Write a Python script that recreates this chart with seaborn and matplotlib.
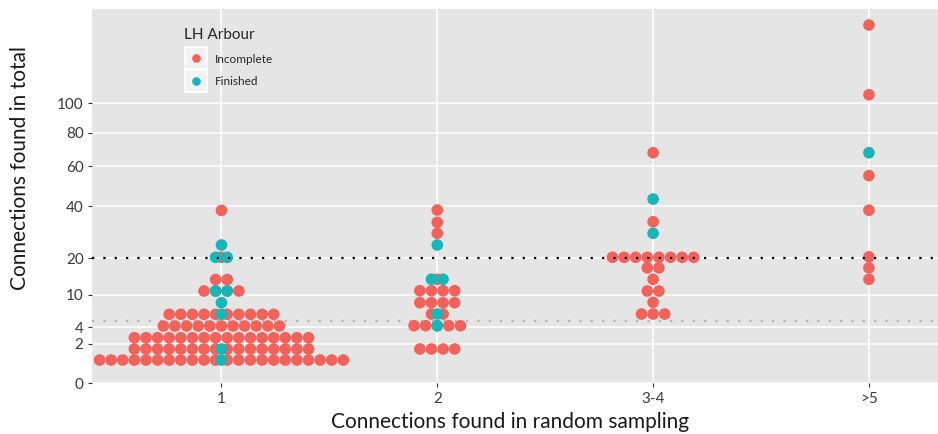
import numpy as np
import pandas as pd
import matplotlib as mpl
import matplotlib.pyplot as plt
import seaborn as sns
from matplotlib.lines import Line2D
mpl.use('Agg')

categories = ["1", "2", "3-4", ">5"]

# dot plot rows (one row = one stack of dots): category, connections found in total, number of dots
inc_cat = [1, 1, 1, 1, 1, 1, 1, 1, 1,
           2, 2, 2, 2, 2, 2, 2, 2, 2,
           3, 3, 3, 3, 3, 3, 3, 3,
           4, 4, 4, 4, 4, 4, 4]
inc_total = [0.69, 1.5, 2.65, 4.19, 6.07, 10.87, 13.74, 20.25, 38.1,
             1.5, 4.23, 6.12, 8.29, 10.93, 13.8, 28.7, 33.06, 38.3,
             6.12, 8.37, 10.87, 13.8, 17.0, 20.25, 33.3, 67.8,
             13.8, 17.0, 20.4, 38.2, 55.0, 106.2, 163.7]
inc_n = [22, 16, 16, 11, 10, 4, 2, 1, 1,
         4, 5, 2, 4, 4, 1, 1, 1, 1,
         3, 1, 2, 1, 2, 8, 1, 1,
         1, 1, 1, 1, 1, 1, 1]

fin_cat = [1, 1, 1, 1, 1, 1, 1, 2, 2, 2, 2, 3, 3, 4]
fin_total = [0.69, 1.5, 6.07, 8.29, 10.87, 20.25, 24.4,
             4.23, 6.12, 13.8, 24.4, 28.7, 43.3, 67.8]
fin_n = [1, 1, 1, 1, 2, 2, 1, 1, 1, 2, 1, 1, 1, 1]

y_ticks = [0, 2, 4, 10, 20, 40, 60, 80, 100]
threshold_hi = 20
threshold_lo = 5

red = '#F2625B'
teal = '#16B6B9'
step = 0.0538  # dot width in category units

# stack the dots of each row centred on the category
rows = []
for status, cats, totals, ns in [('Incomplete', inc_cat, inc_total, inc_n),
                                 ('Finished', fin_cat, fin_total, fin_n)]:
    for c, t, n in zip(cats, totals, ns):
        for i in range(n):
            rows.append({'x': c + (i - (n - 1) / 2) * step, 'total': t, 'LH Arbour': status})
df = pd.DataFrame(rows)

sns.set_theme(style='darkgrid', rc={'axes.facecolor': '#E5E5E5',
                                    'grid.color': 'white',
                                    'grid.linewidth': 1.1,
                                    'xtick.bottom': True, 'ytick.left': True,
                                    'xtick.color': '#333333', 'ytick.color': '#333333',
                                    'xtick.major.size': 3, 'ytick.major.size': 3,
                                    'xtick.major.width': 0.8, 'ytick.major.width': 0.8})
plt.rcParams['font.family'] = ['Lato', 'DejaVu Sans']

fig = plt.figure(figsize=(9.38, 4.34), dpi=100)
ax = fig.add_axes([0.098, 0.1168, 0.902, 0.8625])

ax.set_yscale('function', functions=(lambda v: np.sqrt(np.clip(v, 0, None)), np.square))

sns.scatterplot(data=df, x='x', y='total', hue='LH Arbour', palette={'Incomplete': red, 'Finished': teal},
                s=70, linewidth=0, legend=False, ax=ax, zorder=2)

ax.axhline(threshold_hi, color='black', ls=(0, (1, 4.1)), lw=1.6, zorder=3)
ax.axhline(threshold_lo, color='#B5B5B5', ls=(0, (1, 4.1)), lw=1.6, zorder=1)

ax.set_xlim(0.4, 4.32)
ax.set_ylim(0, 178.7)
ax.set_xticks(range(1, len(categories) + 1))
ax.set_xticklabels(categories)
ax.set_yticks(y_ticks)
ax.set_yticklabels([str(v) for v in y_ticks])
ax.minorticks_off()
ax.tick_params(labelsize=11, labelcolor='#3A3A3A', pad=3)
for s in ax.spines.values():
    s.set_visible(False)

ax.set_xlabel('Connections found in random sampling', fontsize=15, color='#1A1A1A')
ax.set_ylabel('Connections found in total', fontsize=15, color='#1A1A1A')
ax.xaxis.set_label_coords(0.494, -0.077)
ax.yaxis.set_label_coords(-0.073, 0.574)

# ggplot style legend: grey key boxes behind the dots
handles = []
for col in [red, teal]:
    box = Line2D([], [], marker='s', markersize=16.5, markerfacecolor='#F2F2F2',
                 markeredgecolor='white', markeredgewidth=1.2, ls='')
    dot = Line2D([], [], marker='o', markersize=6.2, markerfacecolor=col, markeredgewidth=0, ls='')
    handles.append((box, dot))
leg = ax.legend(handles, ['Incomplete', 'Finished'], title='LH Arbour', loc='upper left',
                bbox_to_anchor=(0.098, 0.975), frameon=False, fontsize=8.5, title_fontsize=11,
                handlelength=1.95, handletextpad=0.6, labelspacing=1.0, borderpad=0.3)
leg._legend_box.align = 'left'

fig.savefig('out.png', dpi=100)
